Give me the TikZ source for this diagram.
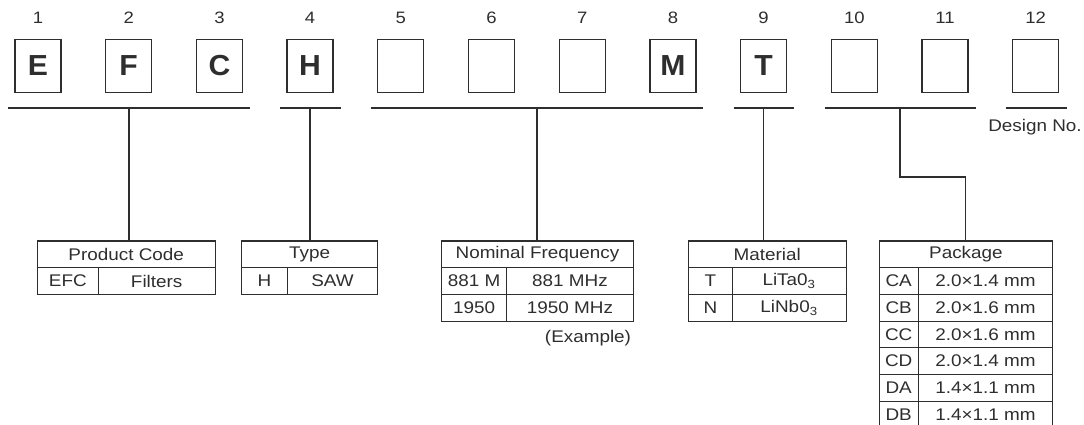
\documentclass[tikz,border=0pt]{standalone}
\usepackage{fontspec}
\setmainfont{Liberation Sans}[FakeStretch=1.12]
\newfontfamily\codefont{Liberation Sans}[FakeStretch=1.04]
\usetikzlibrary{positioning}
\definecolor{inkgray}{HTML}{2E2E2E}
\tikzset{
  codebox/.style={draw, line width=0.7pt, minimum width=0.92cm, minimum height=1.06cm, inner sep=0pt, outer sep=0pt, font=\codefont\bfseries\fontsize{16.5}{18}\selectfont},
  digit/.style={inner sep=0pt, font=\fontsize{9.4}{10}\selectfont},
  cell/.style={draw, minimum height=0.534cm, inner sep=0pt, outer sep=0pt, font=\fontsize{9.6}{10}\selectfont},
  note/.style={inner sep=0pt, font=\fontsize{9.6}{10}\selectfont}
}
\begin{document}
\begin{tikzpicture}[x=0.02cm, y=0.02cm, color=inkgray, line width=0.6pt]
\useasboundingbox (0,0) rectangle (1084,-425);
\node[digit] (n1) at (38,-18) {1};
\node[digit] (n2) at (128.7,-18) {2};
\node[digit] (n3) at (219.4,-18) {3};
\node[digit] (n4) at (310.1,-18) {4};
\node[digit] (n5) at (400.8,-18) {5};
\node[digit] (n6) at (491.5,-18) {6};
\node[digit] (n7) at (582.2,-18) {7};
\node[digit] (n8) at (672.9,-18) {8};
\node[digit] (n9) at (763.6,-18) {9};
\node[digit] (n10) at (854.3,-18) {10};
\node[digit] (n11) at (945,-18) {11};
\node[digit] (n12) at (1035.7,-18) {12};
\node[codebox] (b1) at (38,-65.7) {E};
\node[codebox] (b2) at (128.7,-65.7) {F};
\node[codebox] (b3) at (219.4,-65.7) {C};
\node[codebox] (b4) at (310.1,-65.7) {H};
\node[codebox] (b5) at (400.8,-65.7) {};
\node[codebox] (b6) at (491.5,-65.7) {};
\node[codebox] (b7) at (582.2,-65.7) {};
\node[codebox] (b8) at (672.9,-65.7) {M};
\node[codebox] (b9) at (763.6,-65.7) {T};
\node[codebox] (b10) at (854.3,-65.7) {};
\node[codebox] (b11) at (945,-65.7) {};
\node[codebox] (b12) at (1035.7,-65.7) {};
\coordinate (g1w) at (8,-108);
\coordinate (g1e) at (250,-108);
\coordinate (g1) at (129,-108);
\coordinate (g2w) at (280,-108);
\coordinate (g2e) at (341,-108);
\coordinate (g2) at (310,-108);
\coordinate (g3w) at (370.7,-108);
\coordinate (g3e) at (703,-108);
\coordinate (g3) at (537,-108);
\coordinate (g4w) at (733.6,-108);
\coordinate (g4e) at (793.6,-108);
\coordinate (g4) at (763.8,-108);
\coordinate (g5w) at (824.5,-108);
\coordinate (g5e) at (975.5,-108);
\coordinate (g5) at (900,-108);
\coordinate (g6w) at (1005.6,-108);
\coordinate (g6e) at (1066.7,-108);
\draw (g1w) -- (g1e);
\draw (g2w) -- (g2e);
\draw (g3w) -- (g3e);
\draw (g4w) -- (g4e);
\draw (g5w) -- (g5e);
\draw (g6w) -- (g6e);
\node[note] (dn) at (1035,-127) {Design No.};
\node[cell, minimum width=3.554cm] (pc) at (126.2,-254.35) {Product Code};
\node[cell, minimum width=1.22cm, anchor=north west] (pc1) at (pc.south west) {EFC};
\node[cell, minimum width=2.334cm, anchor=north west] (pc2) at (pc1.north east) {Filters};
\node[cell, minimum width=2.72cm] (ty) at (309.7,-254.35) {Type};
\node[cell, minimum width=0.912cm, anchor=north west] (ty1) at (ty.south west) {H};
\node[cell, minimum width=1.808cm, anchor=north west] (ty2) at (ty1.north east) {SAW};
\node[cell, minimum width=3.832cm] (nf) at (537.5,-254.35) {Nominal Frequency};
\node[cell, minimum width=1.30cm, anchor=north west] (nf1) at (nf.south west) {881 M};
\node[cell, minimum width=2.532cm, anchor=north west] (nf2) at (nf1.north east) {881 MHz};
\node[cell, minimum width=1.30cm, anchor=north west] (nf3) at (nf1.south west) {1950};
\node[cell, minimum width=2.532cm, anchor=north west] (nf4) at (nf3.north east) {1950 MHz};
\node[note] (ex) at (588,-338) {(Example)};
\node[cell, minimum width=3.154cm] (mt) at (767.2,-254.35) {Material};
\node[cell, minimum width=0.88cm, anchor=north west] (mt1) at (mt.south west) {T};
\node[cell, minimum width=2.274cm, anchor=north west] (mt2) at (mt1.north east) {LiTa0\textsubscript{3}};
\node[cell, minimum width=0.88cm, anchor=north west] (mt3) at (mt1.south west) {N};
\node[cell, minimum width=2.274cm, anchor=north west] (mt4) at (mt3.north east) {LiNb0\textsubscript{3}};
\node[cell, minimum width=3.474cm] (pk) at (965.9,-254.35) {Package};
\node[cell, minimum width=0.786cm, anchor=north west] (pk1) at (pk.south west) {CA};
\node[cell, minimum width=2.688cm, anchor=north west] (pk2) at (pk1.north east) {2.0×1.4 mm};
\node[cell, minimum width=0.786cm, anchor=north west] (pk3) at (pk1.south west) {CB};
\node[cell, minimum width=2.688cm, anchor=north west] (pk4) at (pk3.north east) {2.0×1.6 mm};
\node[cell, minimum width=0.786cm, anchor=north west] (pk5) at (pk3.south west) {CC};
\node[cell, minimum width=2.688cm, anchor=north west] (pk6) at (pk5.north east) {2.0×1.6 mm};
\node[cell, minimum width=0.786cm, anchor=north west] (pk7) at (pk5.south west) {CD};
\node[cell, minimum width=2.688cm, anchor=north west] (pk8) at (pk7.north east) {2.0×1.4 mm};
\node[cell, minimum width=0.786cm, anchor=north west] (pk9) at (pk7.south west) {DA};
\node[cell, minimum width=2.688cm, anchor=north west] (pk10) at (pk9.north east) {1.4×1.1 mm};
\node[cell, minimum width=0.786cm, anchor=north west] (pk11) at (pk9.south west) {DB};
\node[cell, minimum width=2.688cm, anchor=north west] (pk12) at (pk11.north east) {1.4×1.1 mm};
\draw (g1) -- (g1 |- pc.north);
\draw (g2) -- (g2 |- ty.north);
\draw (g3) -- (g3 |- nf.north);
\draw (g4) -- (g4 |- mt.north);
\draw (g5) -- ++(0,-69) -| (pk.north);
\end{tikzpicture}
\end{document}
